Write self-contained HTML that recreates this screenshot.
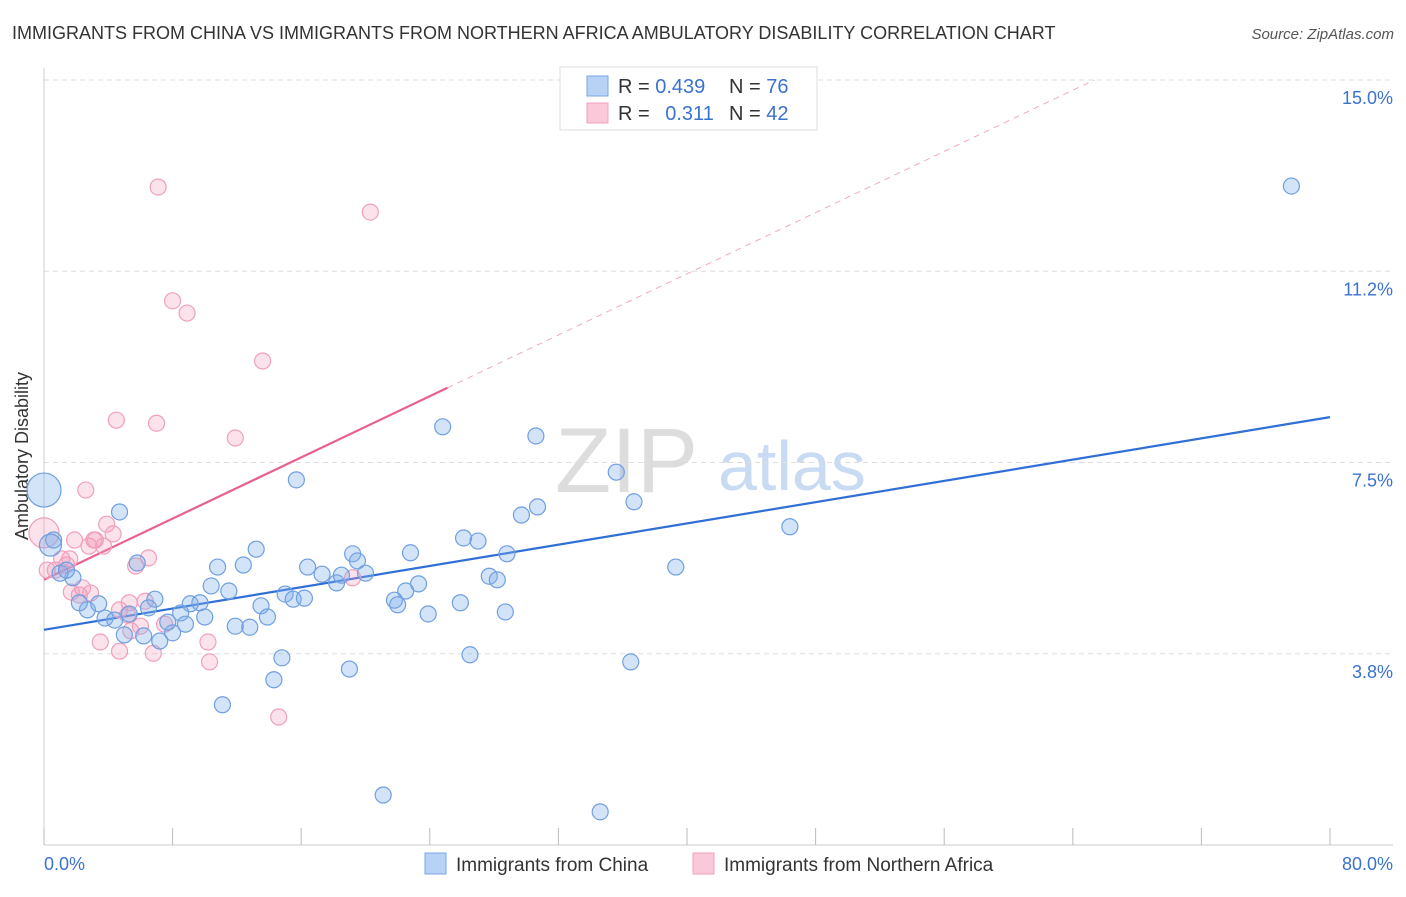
<!DOCTYPE html>
<html><head><meta charset="utf-8"><style>
body{margin:0;background:#fff;font-family:"Liberation Sans",sans-serif;}
svg text{font-family:"Liberation Sans",sans-serif;}
</style></head><body>
<svg id="chart" width="1406" height="892" xmlns="http://www.w3.org/2000/svg">
<text x="12" y="39" font-size="18" fill="#333">IMMIGRANTS FROM CHINA VS IMMIGRANTS FROM NORTHERN AFRICA AMBULATORY DISABILITY CORRELATION CHART</text>
<text x="1394" y="39" font-size="15" fill="#555" font-style="italic" text-anchor="end">Source: ZipAtlas.com</text>
<text x="28" y="456" font-size="18" fill="#333" text-anchor="middle" transform="rotate(-90 28 456)">Ambulatory Disability</text>
<g><text x="555" y="492" font-size="92" fill="#ddd" font-family="Liberation Serif">ZIP</text><text x="718" y="490" font-size="70" fill="#c9daf3">atlas</text></g>
<g id="grid"></g><g id="axes"></g><g id="lines"></g><g id="pts"></g>
<g>
<rect x="560" y="67" width="257" height="63" fill="#fff" stroke="#ddd"/>
<rect x="587" y="76" width="21" height="20" fill="#b8d2f5" stroke="#7aa6e6"/>
<rect x="587" y="103" width="21" height="20" fill="#fac8d8" stroke="#f0a0bc"/>
<text x="618" y="93" font-size="20" fill="#333">R = <tspan fill="#3a72d0">0.439</tspan></text>
<text x="729" y="93" font-size="20" fill="#333">N = <tspan fill="#3a72d0">76</tspan></text>
<text x="618" y="120" font-size="20" fill="#333">R = <tspan fill="#3a72d0" dx="10">0.311</tspan></text>
<text x="729" y="120" font-size="20" fill="#333">N = <tspan fill="#3a72d0">42</tspan></text>
</g>
<g>
<rect x="425" y="853" width="21" height="21" fill="#b8d2f5" stroke="#7aa6e6"/>
<text x="456" y="871" font-size="19" fill="#333">Immigrants from China</text>
<rect x="693" y="853" width="21" height="21" fill="#fac8d8" stroke="#f0a0bc"/>
<text x="724" y="871" font-size="19" fill="#333">Immigrants from Northern Africa</text>
</g>
</svg>
<script>
const yTicks=[3.75,7.5,11.25,15];
const yTickLabels=["3.8%","7.5%","11.2%","15.0%"];
const xTicks=[0,8,16,24,32,40,48,56,64,72,80];
const xLabels=["0.0%","80.0%"];
const chinaX=[77.6,24.8,30.6,35.6,15.7,36.7,30.7,29.7,46.4,4.7,26.1,27.0,28.8,22.8,19.2,19.5,13.2,12.4,10.8,5.8,39.3,20.0,27.7,28.2,16.4,17.3,18.2,18.5,23.3,22.5,10.4,11.5,15.0,15.5,16.2,21.8,22.0,25.9,28.7,23.9,13.5,13.9,9.1,9.7,8.5,10.0,6.9,6.5,5.3,3.8,4.4,2.7,3.4,2.2,1.8,1.0,1.4,0.6,5.0,6.2,7.2,8.0,11.9,12.8,7.7,8.8,14.8,19.0,26.5,36.5,14.3,11.1,21.1,34.6,0.0,0.4];
const chinaY=[12.92,8.20,8.02,7.31,7.16,6.73,6.63,6.47,6.24,6.53,6.02,5.96,5.71,5.73,5.71,5.57,5.80,5.49,5.45,5.53,5.45,5.33,5.27,5.20,5.45,5.31,5.14,5.29,5.12,4.98,5.08,4.98,4.92,4.82,4.84,4.80,4.71,4.75,4.57,4.53,4.69,4.47,4.73,4.75,4.55,4.47,4.82,4.65,4.53,4.45,4.41,4.61,4.73,4.75,5.24,5.33,5.39,5.98,4.12,4.10,4.00,4.16,4.29,4.27,4.37,4.33,3.67,3.45,3.73,3.59,3.24,2.75,0.98,0.65,6.96,5.88];
const chinaR=[8,8,8,8,8,8,8,8,8,8,8,8,8,8,8,8,8,8,8,8,8,8,8,8,8,8,8,8,8,8,8,8,8,8,8,8,8,8,8,8,8,8,8,8,8,8,8,8,8,8,8,8,8,8,8,8,8,8,8,8,8,8,8,8,8,8,8,8,8,8,8,8,8,8,17,11];
const africaX=[7.1,20.3,8.0,8.9,13.6,4.5,7.0,11.9,2.6,3.9,4.3,1.9,3.1,3.7,2.8,6.5,5.7,1.6,1.1,3.2,0.0,0.7,2.4,2.2,2.9,1.7,5.3,6.3,7.5,5.4,6.0,3.5,4.7,6.8,10.2,10.3,14.6,19.2,4.7,5.2,0.2,1.4];
const africaY=[12.90,12.41,10.67,10.43,9.49,8.33,8.27,7.98,6.96,6.29,6.10,5.98,5.98,5.86,5.86,5.63,5.47,5.61,5.61,5.98,6.12,5.39,5.04,4.90,4.94,4.96,4.75,4.78,4.33,4.20,4.29,3.98,3.80,3.76,3.98,3.59,2.51,5.24,4.61,4.51,5.39,5.49];
const africaR=[8,8,8,8,8,8,8,8,8,8,8,8,8,8,8,8,8,8,8,8,15,8,8,8,8,8,8,8,8,8,8,8,8,8,8,8,8,8,8,8,8,8];
const chinaFit=[4.22,8.39];
const africaFit=[5.20,0.15];
const X=v=>44+v*16.075, Y=v=>845-v*51;
const NS="http://www.w3.org/2000/svg";
function mk(t,a,p){const e=document.createElementNS(NS,t);for(const k in a)e.setAttribute(k,a[k]);p.appendChild(e);return e;}
const g=document.getElementById('grid'),ax=document.getElementById('axes'),ln=document.getElementById('lines'),pt=document.getElementById('pts');
yTicks.forEach((v,i)=>{
 const l=mk('line',{x1:44,x2:1393,y1:Y(v),y2:Y(v),stroke:'#ddd','stroke-dasharray':'5,4'},g);
 
 
 const t=mk('text',{x:1393,y:Y(v)+24,'font-size':18,fill:'#3a72d0','text-anchor':'end'},g);t.textContent=yTickLabels[i];
 
 
});
const yl=mk('line',{x1:44,x2:44,y1:68,y2:845,stroke:'#ccc'},ax);


const xl=mk('line',{x1:44,x2:1393,y1:845,y2:845,stroke:'#ccc'},ax);


xTicks.forEach(v=>{const l=mk('line',{x1:X(v),x2:X(v),y1:828,y2:845,stroke:'#bbb'},ax);
 
 });
const t0=mk('text',{x:44,y:870,'font-size':18,fill:'#3a72d0'},ax);t0.textContent=xLabels[0];


const t1=mk('text',{x:1393,y:870,'font-size':18,fill:'#3a72d0','text-anchor':'end'},ax);t1.textContent=xLabels[1];


function dots(xs,ys,rs,fill,stroke,name){xs.forEach((x,i)=>{const c=mk('circle',{cx:X(x),cy:Y(ys[i]),r:rs[i],fill:fill,stroke:stroke,'stroke-width':1.2},pt);
 
 });}
dots(africaX,africaY,africaR,'rgba(245,160,190,0.3)','#f0a0bc','africa-point');
dots(chinaX,chinaY,chinaR,'rgba(130,175,235,0.35)','#6f9fe0','china-point');
const bl=mk('line',{x1:X(0),y1:Y(chinaFit[0]),x2:X(80),y2:Y(chinaFit[1]),stroke:'#2f6fd6','stroke-width':2.2},ln);


const pEnd=25.1, pDash=(15-africaFit[0])/africaFit[1];
const pl=mk('line',{x1:X(0),y1:Y(africaFit[0]),x2:X(pEnd),y2:Y(africaFit[0]+africaFit[1]*pEnd),stroke:'#e8608f','stroke-width':2.2},ln);


const pd=mk('line',{x1:X(pEnd),y1:Y(africaFit[0]+africaFit[1]*pEnd),x2:X(pDash),y2:Y(15),stroke:'#eeaabf','stroke-width':1,'stroke-dasharray':'6,5'},ln);


</script>
</body></html>
